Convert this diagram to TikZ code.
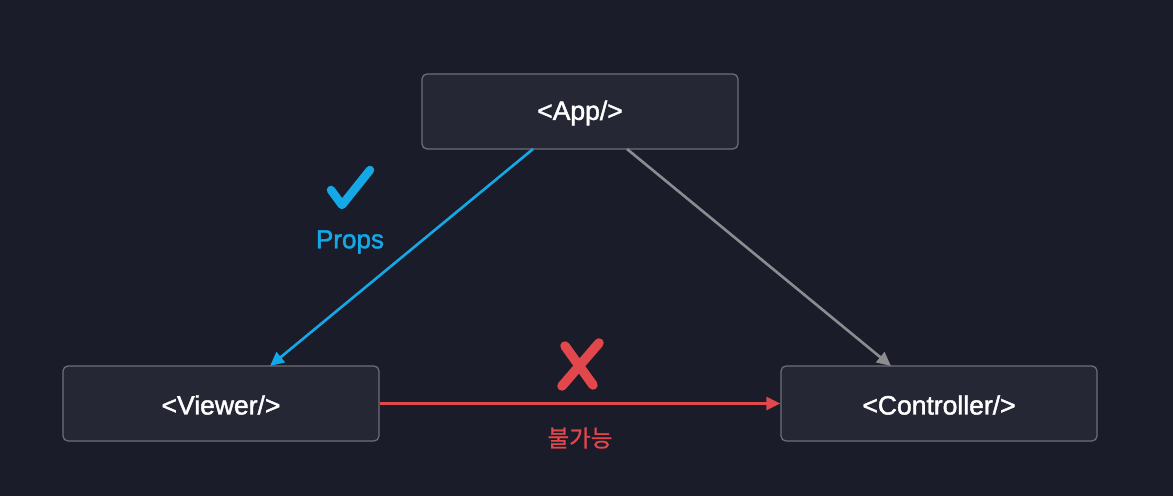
\documentclass[tikz,border=0pt]{standalone}
\usepackage{fontspec}
\setmainfont{Liberation Sans}[FakeBold=1.6]
\newfontfamily\kofont{Noto Sans CJK KR}[FakeBold=0.8]
\usetikzlibrary{arrows.meta}
\definecolor{bgc}{HTML}{1B1C2A}
\definecolor{boxfill}{HTML}{262735}
\definecolor{boxline}{HTML}{6E6F7A}
\definecolor{propblue}{HTML}{14A9E6}
\definecolor{nored}{HTML}{E2474B}
\definecolor{graylink}{HTML}{8C8C90}
\tikzset{
  comp/.style={draw=boxline, line width=1.2pt, fill=boxfill, rounded corners=5pt,
    minimum width=316pt, minimum height=75pt, text=white, font=\fontsize{26.5}{30}\selectfont},
  link/.style={line width=2.6pt, -{Triangle[length=14pt,width=13pt]}},
}
\begin{document}
\begin{tikzpicture}[x=1pt,y=-1pt]
\fill[bgc] (0,0) rectangle (1173,496);
\useasboundingbox (0,0) rectangle (1173,496);
\node[comp] (app) at (580,111.5) {};
\node[comp] (viewer) at (221,403.5) {};
\node[comp] (ctrl) at (939,403.5) {};
\node[text=white, font=\fontsize{26.5}{30}\selectfont] (appt) at (580,113) {<App/>};
\node[text=white, font=\fontsize{26.5}{30}\selectfont] (viewert) at (221,405) {<Viewer/>};
\node[text=white, font=\fontsize{26.5}{30}\selectfont] (ctrlt) at (939,405) {<Controller/>};
\coordinate (a1) at (533,149);
\coordinate (v1) at (270,366);
\coordinate (a2) at (627,149);
\coordinate (c1) at (891,366);
\draw[link, propblue] (a1) -- (v1);
\draw[link, graylink] (a2) -- (c1);
\draw[link, nored] (viewer.east) -- (ctrl.west);
% check mark
\draw[propblue, line width=8.5pt, line cap=round, line join=round] (331,190) -- (342,205) -- (370,170);
\node[text=propblue, font=\fontsize{26}{30}\selectfont] (props) at (350,242) {Props};
% cross
\draw[nored, line width=9.5pt, line cap=round] (565,346) -- (593,385);
\draw[nored, line width=9.5pt, line cap=round] (599,343) -- (562,386);
\node[text=nored, font=\kofont\fontsize{23.5}{26}\selectfont] (no) at (580,438) {불가능};
\end{tikzpicture}
\end{document}
